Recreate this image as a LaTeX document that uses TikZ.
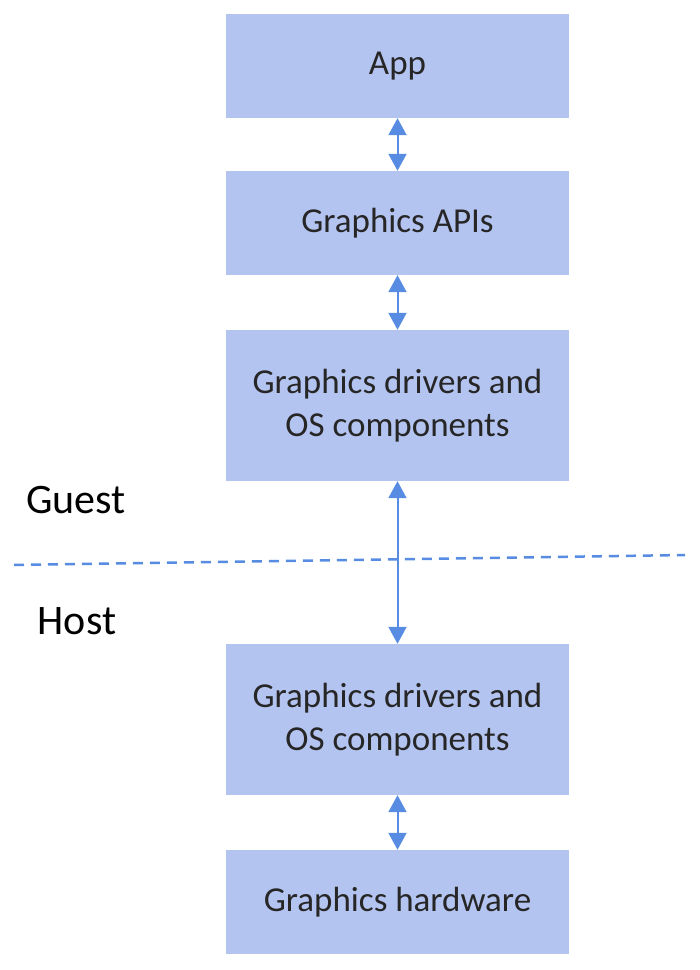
\documentclass[tikz,border=0pt]{standalone}
\usepackage{fontspec}
\setmainfont{Carlito}
\usepackage{xcolor}
\usetikzlibrary{arrows.meta}

\definecolor{boxfill}{RGB}{180,196,240}
\definecolor{linkblue}{RGB}{88,140,226}

\begin{document}
\begin{tikzpicture}[x=1pt,y=1pt,
    layer/.style={fill=boxfill, draw=none, minimum width=343pt, align=center,
        font=\fontsize{35}{43}\selectfont, text=black!85},
    link/.style={linkblue, line width=2pt, {Triangle[width=18pt,length=17pt]}-{Triangle[width=18pt,length=17pt]}},
    side/.style={font=\fontsize{42}{50}\selectfont, text=black}]
    \useasboundingbox (0,0) rectangle (700,970);

    % Layers
    \node[layer, minimum height=104pt] (app) at (397.5,904) {App};
    \node[layer, minimum height=104pt] (apis) at (397.5,747) {Graphics APIs};
    \node[layer, minimum height=151pt] (gdrv) at (397.5,564.5) {Graphics drivers and\\OS components};
    \node[layer, minimum height=151pt] (hdrv) at (397.5,250.5) {Graphics drivers and\\OS components};
    \node[layer, minimum height=104pt] (hw) at (397.5,68) {Graphics hardware};

    % Links
    \draw[link] (app.south) -- (apis.north);
    \draw[link] (apis.south) -- (gdrv.north);
    \draw[link] (gdrv.south) -- (hdrv.north);
    \draw[link] (hdrv.south) -- (hw.north);

    % Guest / host border
    \coordinate (bl) at (14,405);
    \coordinate (br) at (685,415);
    \draw[linkblue, line width=2.5pt, dash pattern=on 10pt off 7pt] (bl) -- (br);
    \node[side] (guest) at (76,470) {Guest};
    \node[side] (host) at (77,349) {Host};

\end{tikzpicture}
\end{document}
